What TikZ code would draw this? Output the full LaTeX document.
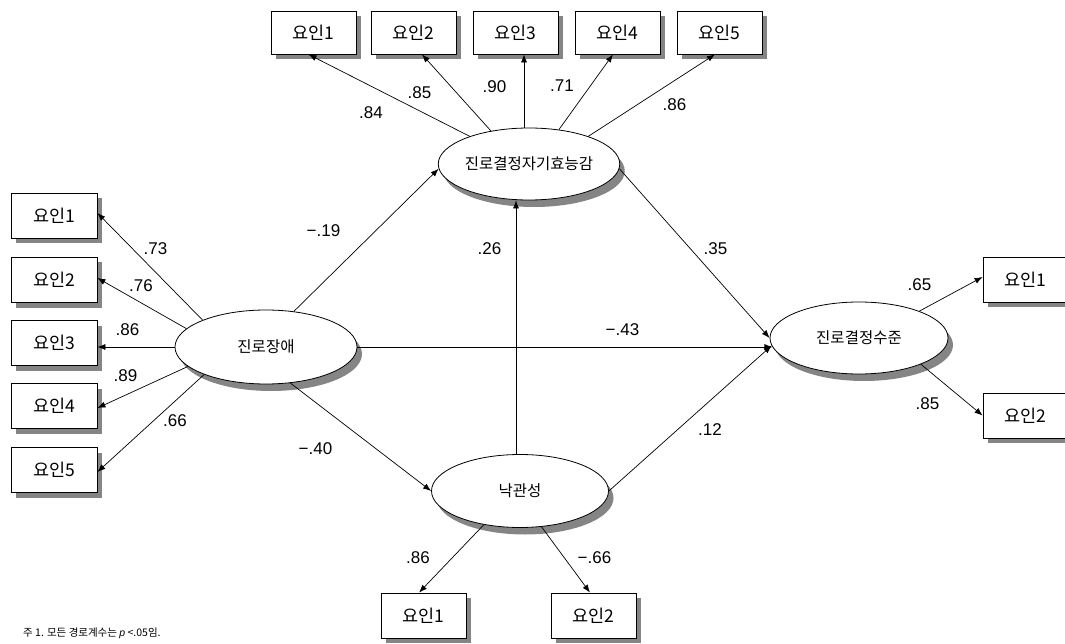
\documentclass[tikz,border=0pt]{standalone}
\usepackage{fontspec}
\setmainfont{Liberation Sans}
\newfontfamily\kr{Noto Sans CJK KR}
\usetikzlibrary{arrows.meta,shapes.geometric,shadows,calc}
\begin{document}
\begin{tikzpicture}[x=1pt,y=-1pt,
  box/.style={draw=black, line width=0.8pt, fill=white, minimum width=85pt, minimum height=44pt, inner sep=0pt,
    font=\kr\fontsize{17.5}{20}\selectfont,
    drop shadow={shadow xshift=5pt, shadow yshift=-5pt, fill=black!48, opacity=1}},
  lat/.style={ellipse, draw=black, line width=0.8pt, fill=white, minimum width=178pt, minimum height=72pt, inner sep=0pt,
    font=\kr\fontsize{15.5}{18}\selectfont,
    drop shadow={shadow xshift=5pt, shadow yshift=-7pt, fill=black!48, opacity=1}},
  arr/.style={draw=black, line width=0.7pt, -{Latex[length=8pt,width=6pt]}},
  coef/.style={font=\fontsize{17}{20}\selectfont, inner sep=0pt},
]
\useasboundingbox (0,0) rectangle (1065,644);

% latent variables
\node[lat] (T) at (529,164) {진로결정자기효능감};
\node[lat, minimum width=182pt, minimum height=74pt] (L) at (266,347) {진로장애};
\node[lat] (R) at (859,338) {진로결정수준};
\node[lat, minimum width=177pt, minimum height=73pt] (B) at (520,491) {낙관성};

% top indicators
\node[box, minimum height=43pt] (t1) at (313.5,32.5) {요인1};
\node[box, minimum height=43pt] (t2) at (413.5,32.5) {요인2};
\node[box, minimum height=43pt] (t3) at (515.5,32.5) {요인3};
\node[box, minimum height=43pt] (t4) at (617.5,32.5) {요인4};
\node[box, minimum height=43pt] (t5) at (719.5,32.5) {요인5};

% left indicators
\node[box, minimum width=86pt, minimum height=45pt] (l1) at (54,216) {요인1};
\node[box, minimum width=86pt, minimum height=45pt] (l2) at (54,280) {요인2};
\node[box, minimum width=86pt, minimum height=45pt] (l3) at (54,343) {요인3};
\node[box, minimum width=86pt, minimum height=45pt] (l4) at (54,406) {요인4};
\node[box, minimum width=86pt, minimum height=45pt] (l5) at (54,470) {요인5};

% right indicators
\node[box, minimum height=45pt] (r1) at (1025.5,279.5) {요인1};
\node[box, minimum height=45pt] (r2) at (1025.5,415.5) {요인2};

% bottom indicators
\node[box, minimum height=45pt] (b1) at (423.5,615.5) {요인1};
\node[box, minimum height=45pt] (b2) at (593.5,615.5) {요인2};

% top loadings
\coordinate (a3) at ($(t3.south)+(8.5,0)$);
\draw[arr] (T.155) -- ($(t1.south)+(-5,0)$);
\draw[arr] (T.139) -- ($(t2.south)+(8.5,0)$);
\draw[arr] (T.north -| a3) -- (a3);
\draw[arr] (T.49.5) -- ($(t4.south)+(-4.5,0)$);
\draw[arr] (T.25) -- ($(t5.south)+(-4.5,0)$);

% left loadings
\draw[arr] (L.157) -- ($(l1.east)+(0,-3)$);
\draw[arr] (L.167.5) -- ($(l2.east)+(0,-2)$);
\draw[arr] (L.west) -- (L.west -| l3.east);
\draw[arr] (L.194) -- ($(l4.east)+(0,2)$);
\draw[arr] (L.204) -- ($(l5.east)+(0,2)$);

% right loadings
\draw[arr] (R.24) -- ($(r1.west)+(0,-2.5)$);
\draw[arr] (R.337) -- (r2.west);

% bottom loadings
\draw[arr] (B.223) -- ($(b1.north)+(-4.5,0)$);
\draw[arr] (B.301) -- ($(b2.north)+(-3.5,0)$);

% structural paths
\draw[arr] (L.52) -- (T.183);
\draw[arr] (L.east) -- (L.east -| R.186);
\draw[arr] (T.357) -- (R.180);
\draw[arr] (B.east) -- (R.185);
\draw[arr] (L.304) -- (B.west);
\draw[arr] ([xshift=-4pt]B.north) -- ([xshift=-4pt]B.north |- T.south);

% coefficients
\node[coef] (c1) at (371,113) {.84};
\node[coef] (c2) at (419.5,93) {.85};
\node[coef] (c3) at (494.5,86.5) {.90};
\node[coef] (c4) at (562,86) {.71};
\node[coef] (c5) at (674.5,105) {.86};

\node[coef] (c6) at (155.5,249) {.73};
\node[coef] (c7) at (141,285.5) {.76};
\node[coef] (c8) at (127.5,330) {.86};
\node[coef] (c9) at (125.5,376) {.89};
\node[coef] (c10) at (175,421) {.66};

\node[coef] (c11) at (323.5,231) {−.19};
\node[coef] (c12) at (315.5,449) {−.40};
\node[coef] (c13) at (489.5,248.5) {.26};
\node[coef] (c14) at (715.5,248.5) {.35};
\node[coef] (c15) at (622.5,330) {−.43};
\node[coef] (c16) at (710,430) {.12};

\node[coef] (c17) at (919.5,285) {.65};
\node[coef] (c18) at (927.5,403.5) {.85};

\node[coef] (c19) at (418,558) {.86};
\node[coef] (c20) at (594.5,558) {−.66};

% note
\node[anchor=west, inner sep=0pt, font=\kr\fontsize{10.5}{12}\selectfont] (note) at (23,633) {주 1. 모든 경로계수는 {\normalfont\itshape p} <.05임.};
\end{tikzpicture}
\end{document}
